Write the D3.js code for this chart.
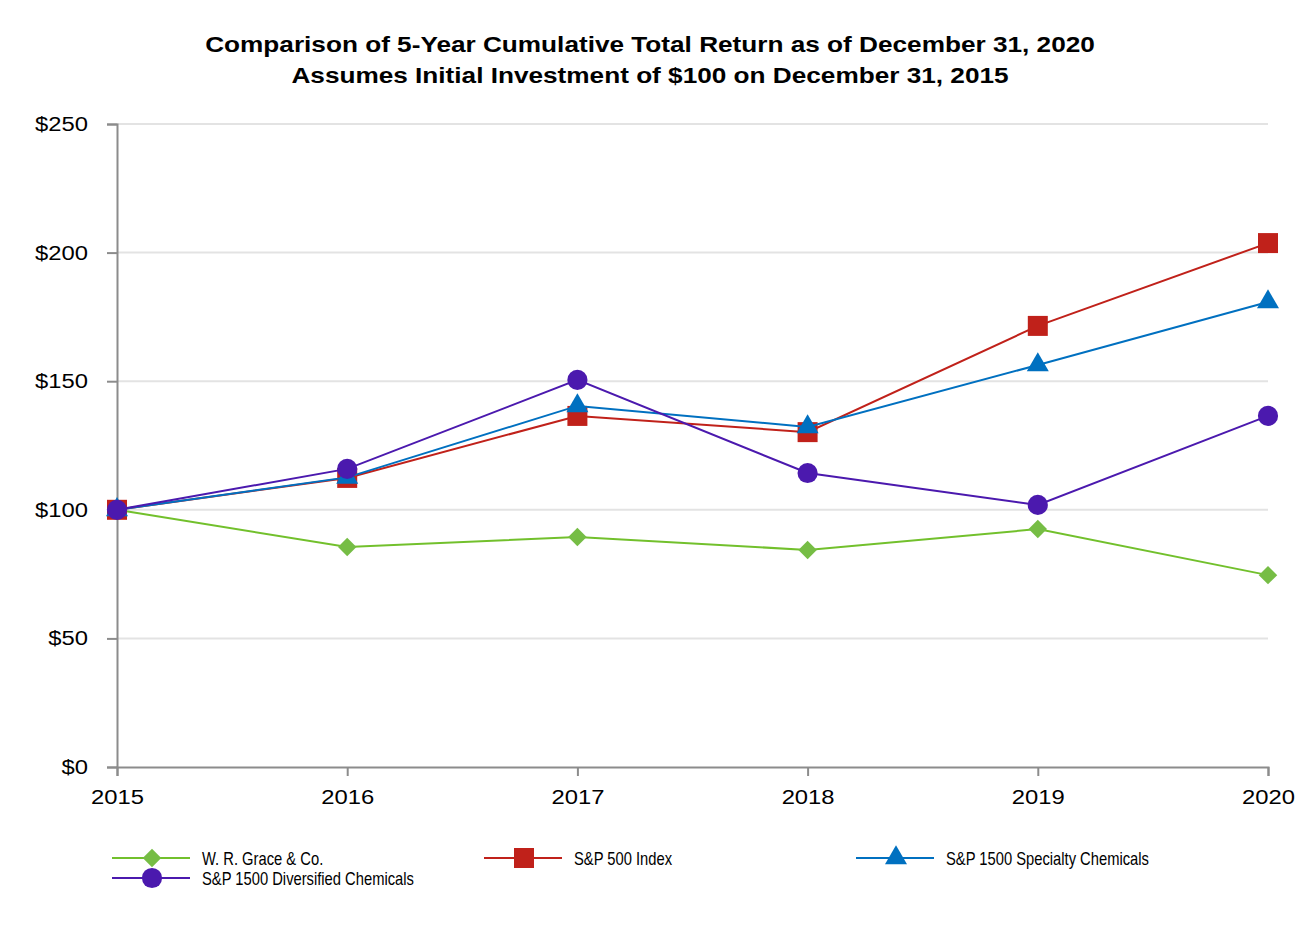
<!DOCTYPE html>
<html>
<head>
<meta charset="utf-8">
<script src="https://cdn.jsdelivr.net/npm/d3@7"></script>
<style>
  body { margin: 0; background: #fff; }
  text { font-family: "Liberation Sans", Arial, sans-serif; fill: #000; }
</style>
</head>
<body>
<script>
const years = [2015, 2016, 2017, 2018, 2019, 2020]
const yTicks = [0, 50, 100, 150, 200, 250]

const grace = [100, 85.5, 89.4, 84.4, 92.5, 74.6]
const sp500 = [100, 112.4, 136.5, 130.2, 171.5, 203.7]
const specialty = [100, 112.6, 140.4, 132.2, 156.3, 180.8]
const diversified = [100, 115.9, 150.5, 114.3, 101.9, 136.5]

const seriesNames = ['W. R. Grace & Co.', 'S&P 500 Index', 'S&P 1500 Specialty Chemicals', 'S&P 1500 Diversified Chemicals']

const series = [
  { name: seriesNames[0], values: grace, color: '#72c02c', fill: '#76bd45', symbol: d3.symbolSquare, size: 170, rotate: 45 },
  { name: seriesNames[1], values: sp500, color: '#c0211a', fill: '#c0211a', symbol: d3.symbolSquare, size: 400, rotate: 0 },
  { name: seriesNames[2], values: specialty, color: '#0070c0', fill: '#0070c0', symbol: d3.symbolTriangle, size: 210, rotate: 0 },
  { name: seriesNames[3], values: diversified, color: '#4b19ae', fill: '#4b19ae', symbol: d3.symbolCircle, size: 320, rotate: 0 }
]

const width = 1300
const height = 928
const margin = { top: 124, right: 32, bottom: 161, left: 117 }
const stretch = 1.19  // the reference text is a little wide

const svg = d3.select('body')
  .append('svg')
  .attr('width', width)
  .attr('height', height)

const x = d3.scaleLinear()
  .domain([2015, 2020])
  .range([margin.left, width - margin.right])

const y = d3.scaleLinear()
  .domain([0, 250])
  .range([height - margin.bottom, margin.top])

// title
const titles = ['Comparison of 5-Year Cumulative Total Return as of December 31, 2020',
  'Assumes Initial Investment of $100 on December 31, 2015']
titles.forEach((t, i) => {
  svg.append('text')
    .attr('transform', `translate(650,${52 + i * 31}) scale(${stretch},1)`)
    .attr('text-anchor', 'middle')
    .style('font-size', '22px').style('font-weight', 'bold')
    .text(t)
})

// gridlines
svg.append('g')
  .selectAll('line')
  .data(yTicks.filter(d => d > 0))
  .enter()
  .append('line')
  .attr('x1', x(2015)).attr('x2', x(2020))
  .attr('y1', d => y(d)).attr('y2', d => y(d))
  .style('stroke', '#e3e3e3')
  .style('stroke-width', 2)

// y axis
const yAxis = svg.append('g')
  .attr('transform', `translate(${margin.left},0)`)
  .call(d3.axisLeft(y).tickValues(yTicks).tickFormat(d => '$' + d).tickSize(10).tickPadding(0))
yAxis.select('.domain').style('stroke', '#8c8c8c').style('stroke-width', 2)
yAxis.selectAll('.tick line').style('stroke', '#8c8c8c').style('stroke-width', 2)
yAxis.selectAll('.tick text')
  .attr('x', null)
  .attr('transform', `translate(-29,0) scale(${stretch},1)`)
  .style('font-size', '20px').style('font-family', '"Liberation Sans", Arial, sans-serif')

// x axis
const xAxis = svg.append('g')
  .attr('transform', `translate(0,${y(0)})`)
  .call(d3.axisBottom(x).tickValues(years).tickFormat(d3.format('d')).tickSize(9).tickPadding(0))
xAxis.select('.domain').style('stroke', '#8c8c8c').style('stroke-width', 2)
xAxis.selectAll('.tick line').style('stroke', '#8c8c8c').style('stroke-width', 2)
xAxis.selectAll('.tick text')
  .attr('y', null)
  .attr('transform', `translate(0,23) scale(${stretch},1)`)
  .style('font-size', '20px').style('font-family', '"Liberation Sans", Arial, sans-serif')

// lines and markers
const line = d3.line()
  .x((d, i) => x(years[i]))
  .y(d => y(d))

series.forEach(s => {
  svg.append('path')
    .datum(s.values)
    .attr('d', line)
    .style('fill', 'none')
    .style('stroke', s.color)
    .style('stroke-width', 2)

  svg.append('g').selectAll('path')
    .data(s.values)
    .enter()
    .append('path')
    .attr('d', d3.symbol().type(s.symbol).size(s.size))
    .attr('transform', (d, i) => `translate(${x(years[i])},${y(d)}) rotate(${s.rotate})`)
    .style('fill', s.fill)
})

// legend
const legend = svg.append('g')
const colW = 372
series.forEach((s, i) => {
  const col = i % 3
  const row = Math.floor(i / 3)
  const g = legend.append('g')
    .attr('transform', `translate(${112 + col * colW},${858 + row * 20})`)
  g.append('line')
    .attr('x1', 0).attr('x2', 78)
    .style('stroke', s.color).style('stroke-width', 2)
  g.append('path')
    .attr('d', d3.symbol().type(s.symbol).size(s.size))
    .attr('transform', `translate(40,0) rotate(${s.rotate})`)
    .style('fill', s.fill)
  g.append('text')
    .attr('transform', 'translate(90,6.5) scale(0.82,1)')
    .style('font-size', '18px')
    .text(s.name)
})
</script>
</body>
</html>
